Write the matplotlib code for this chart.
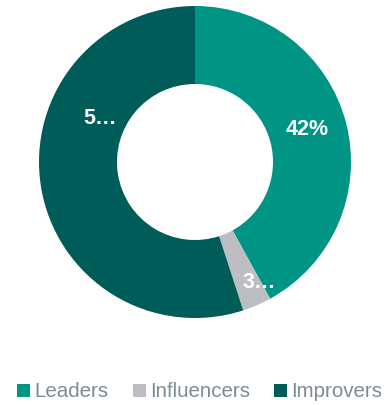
import matplotlib.pyplot as plt
from matplotlib.patches import Patch

# segment data
segments = ['Leaders', 'Influencers', 'Improvers']
shares = [42, 3, 55]
slice_labels = ['42%', '3…', '5…']
colours = ['#009485', '#bcbec2', '#005c58']

fig = plt.figure(figsize=(3.88, 4.05), dpi=100)
ax = fig.add_axes([39/388, 1 - 318/405, 312/388, 312/405])

wedges, _ = ax.pie(shares, colors=colours, startangle=90, counterclock=False,
                   wedgeprops=dict(width=0.5, edgecolor='none'))
ax.set_aspect('equal')
ax.set_xlim(-1, 1)
ax.set_ylim(-1, 1)

# label spots inside the ring (data units)
label_xy = [(0.72, 0.21), (0.41, -0.77), (-0.61, 0.28)]
for (x, y), txt in zip(label_xy, slice_labels):
    ax.text(x, y, txt, color='white', fontsize=15.5, fontweight='bold',
            ha='center', va='center', family='Liberation Sans')

handles = [Patch(facecolor=c, edgecolor='none') for c in colours]
fig.legend(handles, segments, loc='lower center', bbox_to_anchor=(0.515, -0.037),
           ncol=3, frameon=False, handlelength=0.62, handleheight=0.62,
           handletextpad=0.2, columnspacing=1.2,
           prop=dict(family='Liberation Sans', size=14.8), labelcolor='#7b8c96')

fig.savefig('out.png', dpi=100)
